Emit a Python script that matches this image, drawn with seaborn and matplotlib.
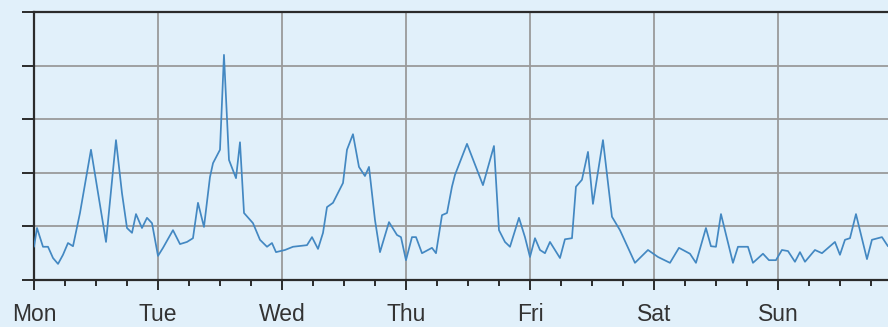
import matplotlib
matplotlib.use("Agg")
import matplotlib.pyplot as plt
import seaborn as sns
import numpy as np
import pandas as pd
from matplotlib.ticker import MultipleLocator, NullFormatter

# hours since Monday 00:00 and the traffic level
hours = [
    0.0, 0.58, 1.74, 2.71, 3.68, 4.65, 5.61, 6.58, 7.55, 8.90,
    11.03, 12.19, 13.94, 15.87, 17.03, 18.0, 18.97, 19.74, 20.90, 21.87,
    22.84, 24.0, 24.97, 26.90, 28.26, 29.61, 30.77, 31.74, 32.90, 34.06,
    34.65, 36.0, 36.77, 37.74, 39.10, 39.87, 40.65, 42.39, 43.74, 45.10,
    46.06, 46.84, 48.58, 50.13, 52.84, 53.81, 54.97, 55.94, 56.71, 57.87,
    59.81, 60.58, 61.74, 62.90, 64.06, 64.84, 66.0, 66.97, 68.71, 70.26,
    71.03, 72.0, 73.16, 73.94, 75.10, 77.03, 77.81, 78.97, 79.94, 80.90,
    81.48, 83.81, 86.90, 89.03, 90.0, 91.16, 92.13, 93.87, 95.03, 96.0,
    96.97, 97.94, 98.90, 99.87, 101.81, 102.77, 104.13, 104.90, 106.06, 107.23,
    108.19, 110.13, 111.87, 113.42, 116.32, 118.84, 120.77, 123.10, 124.84, 126.97,
    128.13, 130.06, 131.03, 132.0, 132.97, 135.29, 136.26, 138.19, 139.16, 141.10,
    142.26, 143.61, 144.77, 145.94, 147.29, 148.26, 149.23, 151.16, 152.52, 155.03,
    156.0, 156.97, 157.94, 159.10, 161.23, 162.19, 164.13, 165.29,
]
traffic = [
    6.2, 9.7, 6.2, 6.2, 4.1, 3.0, 4.7, 6.9, 6.3, 12.5,
    24.3, 17.4, 7.1, 26.1, 16.2, 9.7, 8.8, 12.3, 9.7, 11.6,
    10.6, 4.5, 6.0, 9.3, 6.7, 7.1, 7.8, 14.4, 9.9, 19.2,
    21.8, 24.3, 42.0, 22.4, 19.0, 25.7, 12.5, 10.6, 7.5, 6.2,
    6.9, 5.2, 5.6, 6.2, 6.5, 8.0, 5.8, 8.8, 13.6, 14.4,
    18.1, 24.3, 27.2, 21.1, 19.4, 21.1, 11.2, 5.2, 10.8, 8.4,
    8.0, 3.7, 8.0, 8.0, 5.0, 6.0, 5.0, 12.1, 12.5, 17.4,
    19.6, 25.4, 17.7, 25.0, 9.3, 7.1, 6.2, 11.6, 8.0, 4.3,
    7.8, 5.6, 5.0, 7.1, 4.1, 7.6, 7.8, 17.4, 18.7, 23.9,
    14.2, 26.1, 11.8, 9.3, 3.2, 5.6, 4.3, 3.2, 6.0, 4.9,
    3.2, 9.7, 6.3, 6.2, 12.3, 3.2, 6.2, 6.2, 3.2, 4.9,
    3.7, 3.7, 5.6, 5.4, 3.4, 5.2, 3.4, 5.6, 5.0, 7.1,
    4.7, 7.5, 7.8, 12.3, 3.9, 7.5, 8.0, 6.3,
]
day_labels = ["Mon", "Tue", "Wed", "Thu", "Fri", "Sat", "Sun"]
y_ticks = [0, 10, 20, 30, 40, 50]

bg = "#e1f0fa"
sns.set_style("white", {"axes.facecolor": bg})
plt.rcParams["font.family"] = ["Liberation Sans", "DejaVu Sans"]

df = pd.DataFrame({"hour": hours, "traffic": traffic})

fig = plt.figure(figsize=(8.88, 3.27), dpi=100, facecolor=bg)
ax = fig.add_axes([34 / 888, 1 - 280 / 327, 1 - 34 / 888, 268 / 327])
ax.set_facecolor(bg)

sns.lineplot(data=df, x="hour", y="traffic", ax=ax, color="#4388c2",
             linewidth=1.25, zorder=3)

ax.set_xlim(0, 165.3)
ax.set_ylim(0, 50)
ax.set_xticks(np.arange(len(day_labels)) * 24)
ax.set_xticklabels(day_labels)
ax.xaxis.set_minor_locator(MultipleLocator(6))
ax.set_yticks(y_ticks)
ax.yaxis.set_major_formatter(NullFormatter())

ax.grid(True, which="major", color="#9a9a9a", linewidth=1.3, zorder=1)
ax.set_axisbelow(True)

for side in ["left", "bottom", "top"]:
    ax.spines[side].set_visible(True)
    ax.spines[side].set_color("#2b2b2b")
    ax.spines[side].set_linewidth(1.6)
ax.spines["right"].set_visible(False)

ax.tick_params(axis="y", which="major", direction="out", length=9,
               width=1.4, color="#2b2b2b", left=True)
ax.tick_params(axis="x", which="major", direction="out", length=7.2,
               width=1.4, color="#2b2b2b", bottom=True, labelsize=16.5,
               labelcolor="#333333", pad=9.5)
ax.tick_params(axis="x", which="minor", direction="out", length=4.3,
               width=1.4, color="#2b2b2b", bottom=True)

ax.set_xlabel("")
ax.set_ylabel("")

fig.savefig("out.png", dpi=100, facecolor=bg)
